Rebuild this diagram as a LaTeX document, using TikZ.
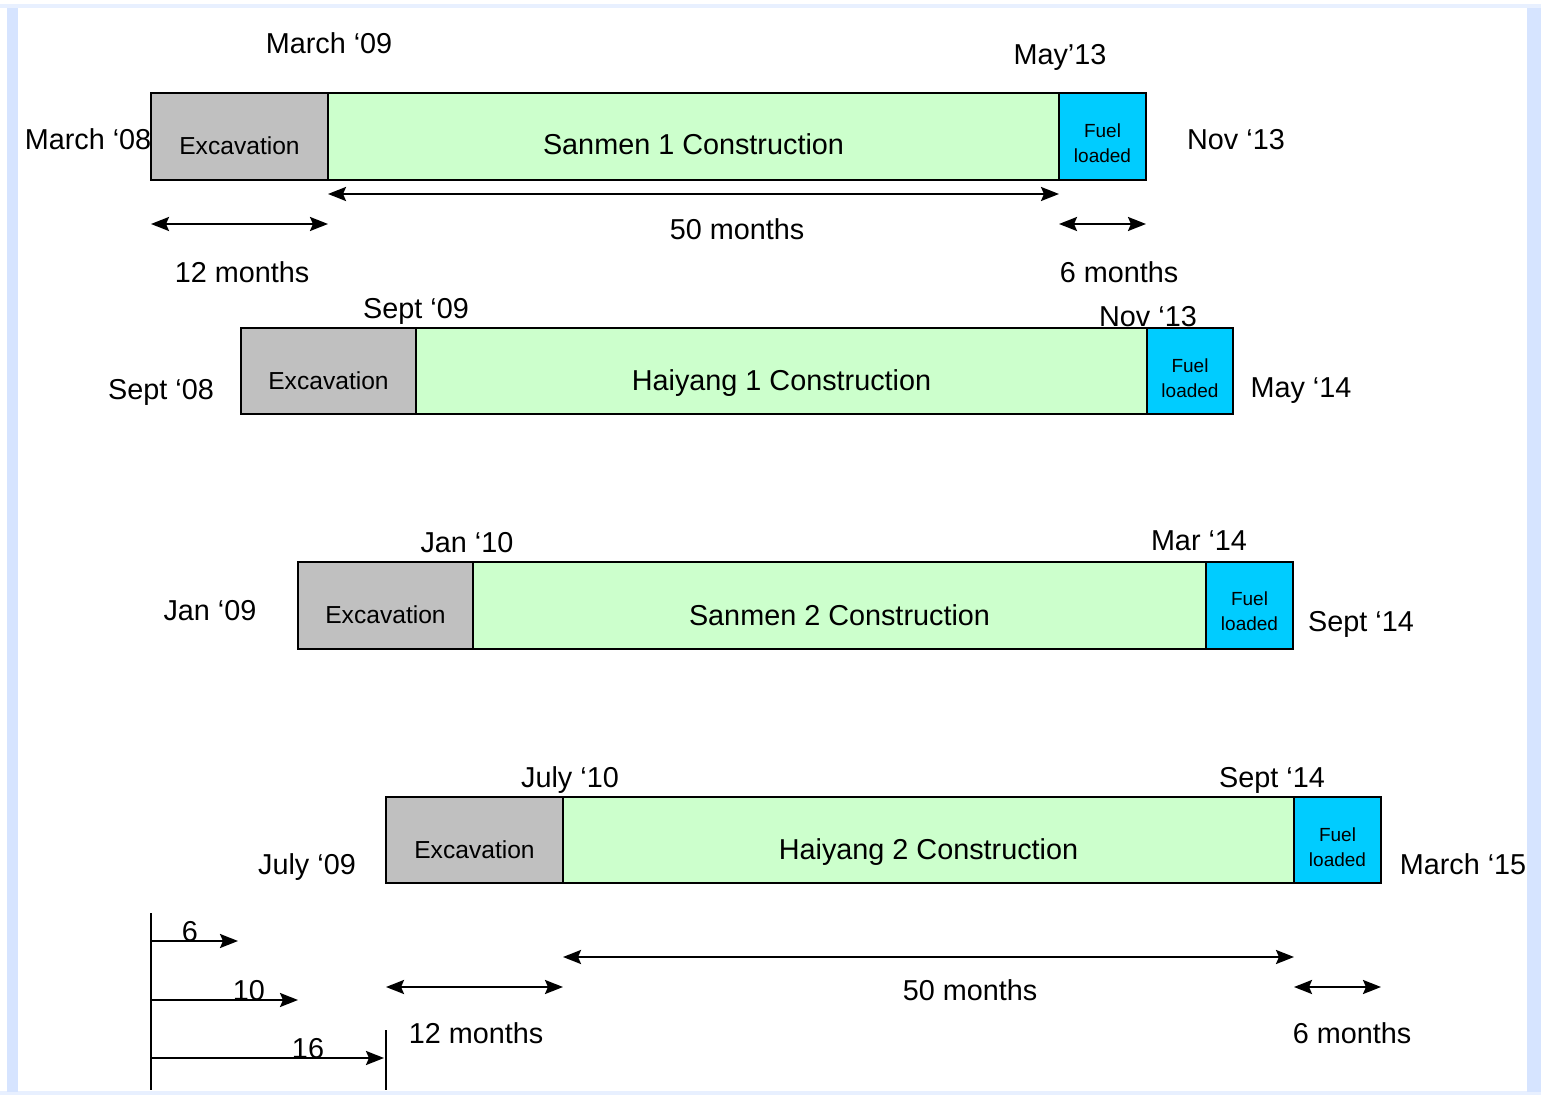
\documentclass[tikz,border=0pt]{standalone}
\usepackage{fontspec}
\setmainfont{Liberation Sans}
\usetikzlibrary{arrows.meta,fit}
\definecolor{excgray}{RGB}{192,192,192}
\definecolor{congreen}{RGB}{204,255,204}
\definecolor{fuelcyan}{RGB}{0,204,255}
\definecolor{frameblue}{RGB}{214,228,255}
\definecolor{framelight}{RGB}{232,240,255}
\tikzset{
  seg/.style={draw=black, line width=1.3pt, inner sep=0pt, outer sep=0pt},
  exc/.style={seg, fill=excgray},
  con/.style={seg, fill=congreen},
  fuel/.style={seg, fill=fuelcyan},
  exctxt/.style={inner sep=0pt, font=\fontsize{12.3}{14}\selectfont, text height=8.8pt, text depth=0pt},
  contxt/.style={inner sep=0pt, font=\fontsize{14.4}{17}\selectfont, text height=10.3pt, text depth=0pt},
  fueltxt/.style={inner sep=0pt, align=center, font=\fontsize{9.5}{12.5}\selectfont},
  lbl/.style={inner sep=0pt, font=\fontsize{14.4}{17}\selectfont, text height=10.3pt, text depth=0pt},
  tip/.tip={Stealth[length=9pt,width=7pt,inset=1.5pt]},
  dim/.style={tip-tip, line width=1.2pt},
  onearrow/.style={-tip, line width=1.2pt},
  tick/.style={line width=1.2pt},
}
\begin{document}
\begin{tikzpicture}[x=0.5pt, y=-0.5pt]
\useasboundingbox (0,0) rectangle (1541,1095);
% frame
\fill[white] (0,0) rectangle (1541,1095);
\fill[framelight] (0,4) rectangle (1541,8);
\fill[framelight] (0,1091) rectangle (1541,1095);
\fill[frameblue] (7,8) rectangle (18,1092);
\fill[frameblue] (1527,8) rectangle (1541,1092);

% Row 1: Sanmen 1
\node[exc, fit={(151,93)(328,180)}] (e1) {};
\node[con, fit={(328,93)(1059,180)}] (c1) {};
\node[fuel, fit={(1059,93)(1146,180)}] (f1) {};
\node[exctxt] (e1t) at ([yshift=-4.75pt]e1.center) {Excavation};
\node[contxt] (c1t) at ([yshift=-4pt]c1.center) {Sanmen 1 Construction};
\node[fueltxt] (f1t) at ([yshift=-3.5pt]f1.center) {Fuel\\loaded};
\node[lbl] (d1a) at (329,43) {March ‘09};
\node[lbl] (d1b) at (1060,54) {May’13};
\node[lbl] (d1c) at (88,139) {March ‘08};
\node[lbl] (d1d) at (1236,139) {Nov ‘13};
\draw[dim] ([yshift=-7pt]c1.south west) -- ([yshift=-7pt]c1.south east);
\draw[dim] ([yshift=-22pt]e1.south west) -- ([yshift=-22pt]e1.south east);
\draw[dim] ([yshift=-22pt]f1.south west) -- ([yshift=-22pt]f1.south east);
\node[lbl] (m1a) at (737,229) {50 months};
\node[lbl] (m1b) at (242,272) {12 months};
\node[lbl] (m1c) at (1119,272) {6 months};

% Row 2: Haiyang 1
\node[exc, fit={(241,328)(416,414)}] (e2) {};
\node[con, fit={(416,328)(1147,414)}] (c2) {};
\node[fuel, fit={(1147,328)(1233,414)}] (f2) {};
\node[exctxt] (e2t) at ([yshift=-4.75pt]e2.center) {Excavation};
\node[contxt] (c2t) at ([yshift=-4.75pt]c2.center) {Haiyang 1 Construction};
\node[fueltxt] (f2t) at ([yshift=-3.5pt]f2.center) {Fuel\\loaded};
\node[lbl] (d2a) at (416,308) {Sept ‘09};
\node[lbl] (d2b) at (1148,316) {Nov ‘13};
\node[lbl] (d2c) at (161,389) {Sept ‘08};
\node[lbl] (d2d) at (1301,387) {May ‘14};

% Row 3: Sanmen 2
\node[exc, fit={(298,562)(473,649)}] (e3) {};
\node[con, fit={(473,562)(1206,649)}] (c3) {};
\node[fuel, fit={(1206,562)(1293,649)}] (f3) {};
\node[exctxt] (e3t) at ([yshift=-4.75pt]e3.center) {Excavation};
\node[contxt] (c3t) at ([yshift=-4.75pt]c3.center) {Sanmen 2 Construction};
\node[fueltxt] (f3t) at ([yshift=-3pt]f3.center) {Fuel\\loaded};
\node[lbl] (d3a) at (467,542) {Jan ‘10};
\node[lbl] (d3b) at (1199,540) {Mar ‘14};
\node[lbl] (d3c) at (210,610) {Jan ‘09};
\node[lbl] (d3d) at (1361,621) {Sept ‘14};

% Row 4: Haiyang 2
\node[exc, fit={(386,797)(563,883)}] (e4) {};
\node[con, fit={(563,797)(1294,883)}] (c4) {};
\node[fuel, fit={(1294,797)(1381,883)}] (f4) {};
\node[exctxt] (e4t) at ([yshift=-4.75pt]e4.center) {Excavation};
\node[contxt] (c4t) at ([yshift=-4.75pt]c4.center) {Haiyang 2 Construction};
\node[fueltxt] (f4t) at ([yshift=-3.5pt]f4.center) {Fuel\\loaded};
\node[lbl] (d4a) at (570,777) {July ‘10};
\node[lbl] (d4b) at (1272,777) {Sept ‘14};
\node[lbl] (d4c) at (307,864) {July ‘09};
\node[lbl] (d4d) at (1463,864) {March ‘15};
\draw[dim] ([yshift=-37pt]c4.south west) -- ([yshift=-37pt]c4.south east);
\draw[dim] ([yshift=-52pt]e4.south west) -- ([yshift=-52pt]e4.south east);
\draw[dim] ([yshift=-52pt]f4.south west) -- ([yshift=-52pt]f4.south east);
\node[lbl] (m4a) at (970,990) {50 months};
\node[lbl] (m4b) at (476,1033) {12 months};
\node[lbl] (m4c) at (1352,1033) {6 months};

% offset scale
\coordinate (st) at (151,913);
\coordinate (sb) at (151,1090);
\coordinate (a6s) at (151,941);   \coordinate (a6e) at (238,941);
\coordinate (a10s) at (151,1000); \coordinate (a10e) at (298,1000);
\coordinate (a16s) at (151,1058); \coordinate (a16e) at (384,1058);
\coordinate (rt) at (386,1030);
\coordinate (rb) at (386,1090);
\draw[tick] (st) -- (sb);
\draw[tick] (rt) -- (rb);
\draw[onearrow] (a6s) -- (a6e);
\draw[onearrow] (a10s) -- (a10e);
\draw[onearrow] (a16s) -- (a16e);
\node[lbl] (n6) at (190,931) {6};
\node[lbl] (n10) at (249,990) {10};
\node[lbl] (n16) at (308,1048) {16};
\end{tikzpicture}
\end{document}
